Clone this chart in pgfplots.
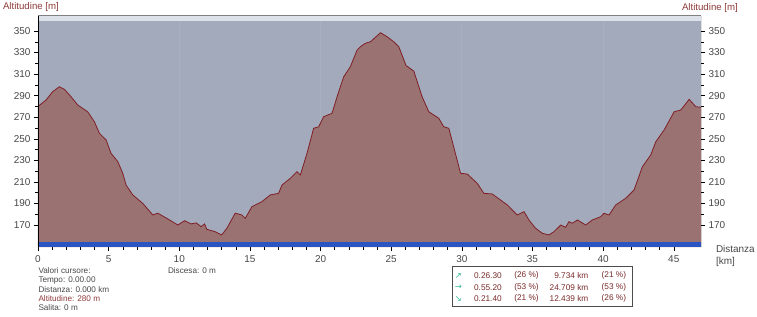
\documentclass[border=0pt]{standalone}
\usepackage{fontspec}
\setmainfont{Liberation Sans}
\newfontfamily\arrowfont{DejaVu Sans}
\usepackage{pgfplots}
\usepackage{pgfplotstable}
\pgfplotsset{compat=1.18}
\definecolor{bgc}{HTML}{A3AABB}
\definecolor{fillc}{HTML}{9B7272}
\definecolor{linec}{HTML}{7E1F26}
\definecolor{stripc}{HTML}{DCE1EA}
\definecolor{bluec}{HTML}{2C55C4}
\definecolor{tickc}{HTML}{474747}
\definecolor{altc}{HTML}{8E3A3A}
\definecolor{legc}{HTML}{7A2A2A}
\definecolor{arrc}{HTML}{33B896}
\pgfplotstableread{
x y
0.00 280
0.57 286
1.04 293.7
1.51 298.3
1.87 295.9
2.34 289
2.81 281.4
3.52 275
3.99 265.9
4.35 255
4.82 249
5.17 236.5
5.65 228.8
6.00 218
6.24 207
6.71 197.9
7.42 190
8.13 179.3
8.48 181
9.31 174.7
9.90 170
10.37 174
10.84 171
11.20 172
11.55 168.5
11.79 171
11.95 166
12.54 163.8
13.00 160.8
13.37 167
13.96 181
14.43 179.3
14.67 176.2
15.14 187
15.85 191.7
16.44 197.9
17.03 199.4
17.27 207.1
17.86 213.3
18.33 219.5
18.57 216.4
19.04 236.5
19.51 259.7
19.87 261.2
20.22 270.5
20.81 273.6
21.17 289
21.64 307.6
22.11 316.9
22.59 332.4
22.82 335.4
23.17 338.6
23.53 340
24.24 348.4
24.71 344.7
25.18 340
25.54 335.4
26.05 318
26.60 312.8
27.19 289
27.66 275.1
28.37 269
28.72 261.2
29.08 259.7
29.91 218
30.38 217.3
31.09 208.7
31.56 199.4
32.15 198.8
33.22 188.6
33.92 179.3
34.40 182.4
34.75 174.7
35.22 167
35.70 162.3
36.17 160.8
36.52 163.8
37.00 170
37.35 167.9
37.58 173.1
37.82 171.6
38.18 174.7
38.77 170
39.24 174.7
39.83 177.7
40.06 180.9
40.42 179.3
40.89 188.6
41.60 194.8
42.19 202.5
42.78 224.1
43.37 235
43.73 247.3
44.32 258.2
45.03 275.1
45.50 276.7
46.09 286.6
46.56 279.8
46.93 279.2
}\profile
\begin{document}
\begin{tikzpicture}[x=1bp,y=1bp]
\begin{axis}[
  at={(0,0)}, anchor=south west,
  scale only axis, width=663bp, height=231.3bp,
  xmin=0, xmax=46.93, ymin=149.6, ymax=364.2,
  axis background/.style={fill=bgc},
  axis line style={draw=none},
  xtick={0,5,...,45}, minor x tick num=4,
  ytick={170,190,...,350}, minor y tick num=1,
  xtick pos=bottom, ytick pos=left,
  tick align=outside, major tick length=4bp, minor tick length=3bp,
  tick style={black, line width=0.5bp},
  ticklabel style={font=\fontsize{10}{12}\selectfont, text=tickc},
  xticklabel style={yshift=-1bp},
  /pgf/number format/assume math mode=true,
  extra x ticks={10,20,30,40}, extra x tick labels={},
  extra x tick style={grid=major, major grid style={white, opacity=0.06, line width=1bp}, major tick length=0pt},
  clip=true,
]
\addplot[fill=fillc, draw=none] table[x=x,y=y] {\profile} \closedcycle;
\addplot[linec, line width=0.8bp] table[x=x,y=y] {\profile};
\fill[bluec] (axis cs:0,149.6) rectangle (axis cs:46.93,154.3);
\fill[stripc] (axis cs:0,359.6) rectangle (axis cs:46.93,364.2);
\draw[gray, line width=1bp] (rel axis cs:0,1) -- (rel axis cs:1,1);
\draw[black, line width=0.6bp] (rel axis cs:0,0) -- (rel axis cs:0,1);
\draw[black, line width=0.6bp] (rel axis cs:1,0) -- (rel axis cs:1,1);
\end{axis}
\begin{axis}[
  at={(0,0)}, anchor=south west,
  scale only axis, width=663bp, height=231.3bp,
  xmin=0, xmax=46.93, ymin=149.6, ymax=364.2,
  axis x line=none, axis y line*=right,
  axis line style={draw=none},
  ytick={170,190,...,350}, minor y tick num=1,
  tick align=outside, major tick length=4bp, minor tick length=3bp,
  tick style={black, line width=0.5bp},
  ticklabel style={font=\fontsize{10}{12}\selectfont, text=tickc},
  /pgf/number format/assume math mode=true,
]
\end{axis}
\begin{scope}[every node/.style={inner sep=0pt, outer sep=0pt}]
\node[anchor=west, text=altc, font=\fontsize{9.7}{11}\selectfont] at (-35,239.5) {Altitudine [m]};
\node[anchor=west, text=altc, font=\fontsize{9.7}{11}\selectfont] at (644,238.7) {Altitudine [m]};
\node[anchor=west, text=tickc, font=\fontsize{10}{12}\selectfont] at (678,-2) {Distanza};
\node[anchor=west, text=tickc, font=\fontsize{10}{12}\selectfont] at (678,-14.7) {[km]};
\begin{scope}[every node/.append style={anchor=west, text=tickc, font=\fontsize{8.2}{10}\selectfont}]
\node at (0.5,-23.7) {Valori cursore:};
\node at (0.5,-33) {Tempo: 0.00.00};
\node at (0.5,-42.3) {Distanza: 0.000 km};
\node[text=altc] at (0.5,-52) {Altitudine: 280 m};
\node at (0.5,-60.7) {Salita: 0 m};
\node at (130,-23.7) {Discesa: 0 m};
\end{scope}
\draw[fill=white, draw=black!70, line width=0.7bp] (414,-59) rectangle (594,-19.7);
\begin{scope}[every node/.append style={text=legc, font=\fontsize{8.3}{10}\selectfont}]
\node[text=arrc, font=\arrowfont\fontsize{8.5}{9}\selectfont] at (420.3,-28.7) {↗};
\node[text=arrc, font=\arrowfont\fontsize{8.5}{9}\selectfont] at (420.3,-40.2) {→};
\node[text=arrc, font=\arrowfont\fontsize{8.5}{9}\selectfont] at (420.3,-51.8) {↘};
\node[anchor=east] at (463.7,-28.7) {0.26.30};
\node[anchor=east] at (463.7,-40.2) {0.55.20};
\node[anchor=east] at (463.7,-51.8) {0.21.40};
\node[anchor=west] at (476.3,-28.7) {(26 \%)};
\node[anchor=west] at (476.3,-40.2) {(53 \%)};
\node[anchor=west] at (476.3,-51.8) {(21 \%)};
\node[anchor=east] at (550.3,-28.7) {9.734 km};
\node[anchor=east] at (550.3,-40.2) {24.709 km};
\node[anchor=east] at (550.3,-51.8) {12.439 km};
\node[anchor=west] at (563.7,-28.7) {(21 \%)};
\node[anchor=west] at (563.7,-40.2) {(53 \%)};
\node[anchor=west] at (563.7,-51.8) {(26 \%)};
\end{scope}
\end{scope}
\pgfresetboundingbox
\path[use as bounding box] (-38,-69) rectangle (719,247);
\end{tikzpicture}
\end{document}
